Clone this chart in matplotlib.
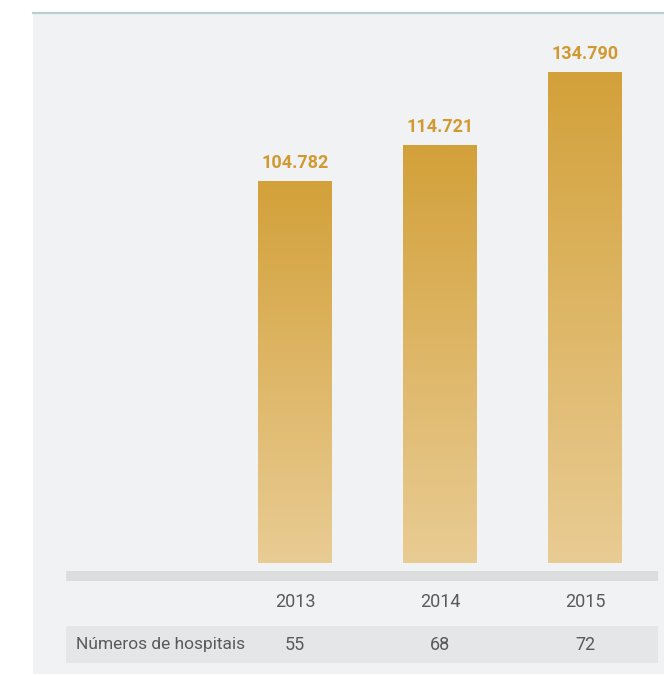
import numpy as np
import matplotlib.pyplot as plt
import matplotlib.patches as mpatches
from matplotlib.colors import LinearSegmentedColormap

# Data
YEARS = ["2013", "2014", "2015"]
VALUES = [104782, 114721, 134790]
HOSPITALS = [55, 68, 72]
ROW_LABEL = "Números de hospitais"

# Style
W, H = 664, 676
PANEL_BG = "#f1f2f4"
BAND_COLOR = "#dcdddf"
ROW_COLOR = "#e5e6e8"
TOP_LINE = "#b9cfcf"
GOLD_TOP = "#d3a13a"
GOLD_BOTTOM = "#e9cc94"
LABEL_GOLD = "#d09a30"
TEXT_GRAY = "#5a5a5a"
FONT = ["Liberation Sans Narrow", "Roboto", "DejaVu Sans"]

fig = plt.figure(figsize=(W / 100, H / 100), dpi=100, facecolor="white")


def px(x0, y0, x1, y1):
    """Pixel box (top-left origin) to figure fraction rect."""
    return [x0 / W, 1 - y1 / H, (x1 - x0) / W, (y1 - y0) / H]


# Background panel and top rule
bg = fig.add_axes(px(33, 13, 664, 674))
bg.set_facecolor(PANEL_BG)
bg.set_xticks([])
bg.set_yticks([])
for s in bg.spines.values():
    s.set_visible(False)
fig.add_artist(plt.Line2D([33 / W, 1], [1 - 13 / H] * 2, color=TOP_LINE, lw=1.6))

# Baseline band and table row band
fig.add_artist(mpatches.Rectangle((66 / W, 1 - 581 / H), (658 - 66) / W, 10 / H,
                                  transform=fig.transFigure, color=BAND_COLOR, lw=0))
fig.add_artist(mpatches.Rectangle((66 / W, 1 - 663 / H), (658 - 66) / W, 37 / H,
                                  transform=fig.transFigure, color=ROW_COLOR, lw=0))

# Bars
ax = fig.add_axes(px(66, 13, 658, 563))
ax.patch.set_alpha(0)
ax.axis("off")

x = np.arange(len(YEARS))
bars = ax.bar(x, VALUES, width=0.51, color="none", lw=0)
cmap = LinearSegmentedColormap.from_list("gold", [GOLD_BOTTOM, GOLD_TOP])
grad = np.linspace(0, 1, 256).reshape(-1, 1)
for b, v in zip(bars, VALUES):
    x0, w = b.get_x(), b.get_width()
    ax.imshow(grad, cmap=cmap, origin="lower", aspect="auto",
              extent=[x0, x0 + w, 0, v], zorder=2)
    ax.text(x0 + w / 2, v + 2800, f"{v:,}".replace(",", "."),
            ha="center", va="bottom", color=LABEL_GOLD, fontsize=13,
            fontweight="bold", family=FONT)
ax.set_xlim(-1.579, 2.503)
ax.set_ylim(0, 151250)

# Table text: years and hospital counts
for i, (yr, n) in enumerate(zip(YEARS, HOSPITALS)):
    xc = ax.transData.transform((i, 0))[0] / W
    fig.text(xc, 1 - 602 / H, yr, ha="center", va="center",
             color=TEXT_GRAY, fontsize=13, family=FONT)
    fig.text(xc, 1 - 645 / H, str(n), ha="center", va="center",
             color=TEXT_GRAY, fontsize=13, family=FONT)
fig.text(76 / W, 1 - 645 / H, ROW_LABEL, ha="left", va="center",
         color=TEXT_GRAY, fontsize=12.5, family=FONT)

fig.savefig("out.png", dpi=100, facecolor="white")
